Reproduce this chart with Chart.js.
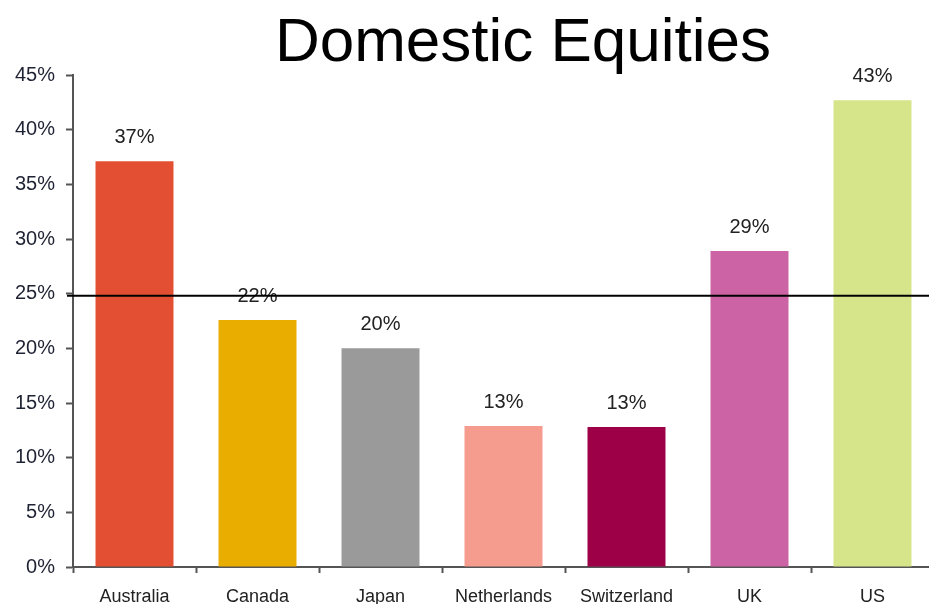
<!DOCTYPE html>
<html>
<head>
<meta charset="utf-8">
<script src="https://cdn.jsdelivr.net/npm/chart.js@4"></script>
<style>
  html, body { margin: 0; padding: 0; background: #fff; overflow: hidden; }
  #wrap { width: 940px; height: 604px; }
</style>
</head>
<body>
<div id="wrap"><canvas id="eqChart" width="940" height="604"></canvas></div>
<script>
const countries = ["Australia", "Canada", "Japan", "Netherlands", "Switzerland", "UK", "US"];
const shares = [37.1, 22.6, 20.0, 12.9, 12.8, 28.9, 42.7];
const shareLabels = ["37%", "22%", "20%", "13%", "13%", "29%", "43%"];
const barColors = ["#e34f33", "#e9ad00", "#9a9a9a", "#f59c8f", "#9e0048", "#cc63a4", "#d7e58a"];
const yTicks = [0, 5, 10, 15, 20, 25, 30, 35, 40, 45];
const benchmark = 24.8;
const chartTitle = "Domestic Equities";

const FONT = "'Liberation Sans', Arial, sans-serif";

// title, value labels and the benchmark line
const extras = {
  id: "extras",
  afterDatasetsDraw(chart) {
    const ctx = chart.ctx;
    const meta = chart.getDatasetMeta(0);
    ctx.save();
    ctx.fillStyle = "#222";
    ctx.font = "20px " + FONT;
    ctx.textAlign = "center";
    ctx.textBaseline = "alphabetic";
    meta.data.forEach((bar, i) => {
      ctx.fillText(shareLabels[i], bar.x, bar.y - 18);
    });

    const y = chart.scales.y.getPixelForValue(benchmark);
    ctx.strokeStyle = "#000";
    ctx.lineWidth = 2;
    ctx.beginPath();
    ctx.moveTo(chart.chartArea.left - 6, y);
    ctx.lineTo(chart.width, y);
    ctx.stroke();

    ctx.fillStyle = "#000";
    ctx.font = "62px " + FONT;
    ctx.fillText(chartTitle, 523, 61);
    ctx.restore();
  }
};

new Chart(document.getElementById("eqChart"), {
  type: "bar",
  data: {
    labels: countries,
    datasets: [{
      data: shares,
      backgroundColor: barColors,
      barPercentage: 0.634,
      categoryPercentage: 1.0
    }]
  },
  options: {
    responsive: false,
    animation: false,
    layout: { padding: { top: 75, right: 6, left: 0, bottom: 0 } },
    plugins: {
      legend: { display: false },
      tooltip: { enabled: false },
      title: { display: false }
    },
    scales: {
      x: {
        offset: true,
        grid: { offset: true, drawOnChartArea: false, tickLength: 6, tickColor: "#555", tickWidth: 2 },
        border: { color: "#555", width: 2 },
        ticks: { color: "#222", font: { family: FONT, size: 18 }, padding: 13, maxRotation: 0 },
        afterFit(scale) { scale.height = 37; }
      },
      y: {
        min: 0,
        max: 45,
        afterBuildTicks(scale) { scale.ticks = yTicks.map(v => ({ value: v })); },
        grid: { drawOnChartArea: false, tickLength: 7, tickColor: "#555", tickWidth: 2 },
        border: { color: "#555", width: 2 },
        ticks: {
          color: "#1e2233",
          font: { family: FONT, size: 20 },
          padding: 11,
          callback: v => v + "%"
        },
        afterFit(scale) { scale.width = 73; }
      }
    }
  },
  plugins: [extras]
});
</script>
</body>
</html>
